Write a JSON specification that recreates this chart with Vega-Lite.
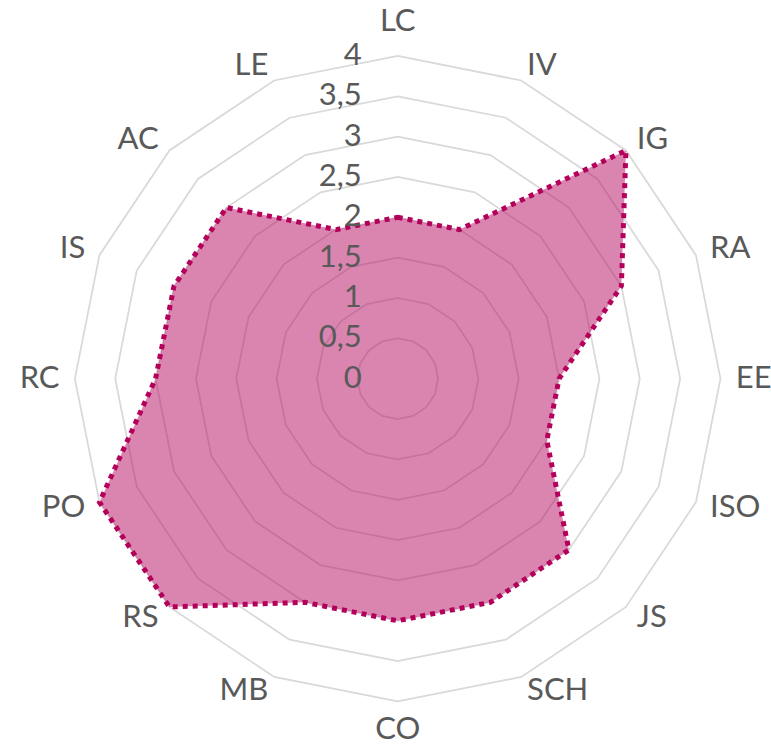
{
  "$schema": "https://vega.github.io/schema/vega-lite/v6.json",
  "width": 771,
  "height": 749,
  "autosize": {"type": "none"},
  "padding": 0,
  "background": "white",
  "config": {"view": {"stroke": null}},
  "datasets": {
    "cats": [
      {"cat": "LC", "i": 0, "value": 2},
      {"cat": "IV", "i": 1, "value": 2},
      {"cat": "IG", "i": 2, "value": 4},
      {"cat": "RA", "i": 3, "value": 3},
      {"cat": "EE", "i": 4, "value": 2},
      {"cat": "ISO", "i": 5, "value": 2},
      {"cat": "JS", "i": 6, "value": 3},
      {"cat": "SCH", "i": 7, "value": 3},
      {"cat": "CO", "i": 8, "value": 3},
      {"cat": "MB", "i": 9, "value": 3},
      {"cat": "RS", "i": 10, "value": 4},
      {"cat": "PO", "i": 11, "value": 4},
      {"cat": "RC", "i": 12, "value": 3},
      {"cat": "IS", "i": 13, "value": 3},
      {"cat": "AC", "i": 14, "value": 3},
      {"cat": "LE", "i": 15, "value": 2}
    ],
    "levels": [
      {"level": 0, "label": "0"},
      {"level": 0.5, "label": "0,5"},
      {"level": 1, "label": "1"},
      {"level": 1.5, "label": "1,5"},
      {"level": 2, "label": "2"},
      {"level": 2.5, "label": "2,5"},
      {"level": 3, "label": "3"},
      {"level": 3.5, "label": "3,5"},
      {"level": 4, "label": "4"}
    ],
    "rings": [
      {"level": 0.5, "i": [0,1,2,3,4,5,6,7,8,9,10,11,12,13,14,15]},
      {"level": 1, "i": [0,1,2,3,4,5,6,7,8,9,10,11,12,13,14,15]},
      {"level": 1.5, "i": [0,1,2,3,4,5,6,7,8,9,10,11,12,13,14,15]},
      {"level": 2, "i": [0,1,2,3,4,5,6,7,8,9,10,11,12,13,14,15]},
      {"level": 2.5, "i": [0,1,2,3,4,5,6,7,8,9,10,11,12,13,14,15]},
      {"level": 3, "i": [0,1,2,3,4,5,6,7,8,9,10,11,12,13,14,15]},
      {"level": 3.5, "i": [0,1,2,3,4,5,6,7,8,9,10,11,12,13,14,15]},
      {"level": 4, "i": [0,1,2,3,4,5,6,7,8,9,10,11,12,13,14,15]}
    ]
  },
  "layer": [
    {
      "data": {"name": "rings"},
      "transform": [
        {"flatten": ["i"]},
        {"calculate": "datum.level*sin(datum.i*PI/8)", "as": "x"},
        {"calculate": "datum.level*cos(datum.i*PI/8)", "as": "y"}
      ],
      "mark": {"type": "line", "interpolate": "linear-closed", "stroke": "#d9d9d9", "strokeWidth": 1.75},
      "encoding": {
        "x": {"field": "x", "type": "quantitative", "scale": {"domain": [-4.928, 4.626]}, "axis": null},
        "y": {"field": "y", "type": "quantitative", "scale": {"domain": [-4.589, 4.693]}, "axis": null},
        "detail": {"field": "level", "type": "nominal"},
        "order": {"field": "i", "type": "quantitative"}
      }
    },
    {
      "data": {"name": "cats"},
      "transform": [
        {"calculate": "datum.value*sin(datum.i*PI/8)", "as": "x"},
        {"calculate": "datum.value*cos(datum.i*PI/8)", "as": "y"}
      ],
      "mark": {"type": "line", "interpolate": "linear-closed", "fill": "#b30c62", "fillOpacity": 0.5, "stroke": "#b5005b", "strokeWidth": 5, "strokeDash": [5, 5], "strokeCap": "butt"},
      "encoding": {
        "x": {"field": "x", "type": "quantitative", "scale": {"domain": [-4.928, 4.626]}, "axis": null},
        "y": {"field": "y", "type": "quantitative", "scale": {"domain": [-4.589, 4.693]}, "axis": null},
        "order": {"field": "i", "type": "quantitative"}
      }
    },
    {
      "data": {"name": "cats"},
      "transform": [
        {"filter": "datum.i == 0"},
        {"calculate": "0", "as": "x"},
        {"calculate": "4.42", "as": "y"}
      ],
      "mark": {"type": "text", "font": "Lato", "fontSize": 31, "fill": "#595959", "align": "center", "baseline": "middle"},
      "encoding": {
        "x": {"field": "x", "type": "quantitative", "scale": {"domain": [-4.928, 4.626]}, "axis": null},
        "y": {"field": "y", "type": "quantitative", "scale": {"domain": [-4.589, 4.693]}, "axis": null},
        "text": {"field": "cat", "type": "nominal"}
      }
    },
    {
      "data": {"name": "cats"},
      "transform": [
        {"filter": "datum.i == 8"},
        {"calculate": "0", "as": "x"},
        {"calculate": "-4.35", "as": "y"}
      ],
      "mark": {"type": "text", "font": "Lato", "fontSize": 31, "fill": "#595959", "align": "center", "baseline": "middle"},
      "encoding": {
        "x": {"field": "x", "type": "quantitative", "scale": {"domain": [-4.928, 4.626]}, "axis": null},
        "y": {"field": "y", "type": "quantitative", "scale": {"domain": [-4.589, 4.693]}, "axis": null},
        "text": {"field": "cat", "type": "nominal"}
      }
    },
    {
      "data": {"name": "cats"},
      "transform": [
        {"filter": "datum.i > 0 && datum.i < 8"},
        {"calculate": "4.19*sin(datum.i*PI/8)", "as": "x"},
        {"calculate": "4.19*cos(datum.i*PI/8)", "as": "y"}
      ],
      "mark": {"type": "text", "font": "Lato", "fontSize": 31, "fill": "#595959", "align": "left", "baseline": "middle"},
      "encoding": {
        "x": {"field": "x", "type": "quantitative", "scale": {"domain": [-4.928, 4.626]}, "axis": null},
        "y": {"field": "y", "type": "quantitative", "scale": {"domain": [-4.589, 4.693]}, "axis": null},
        "text": {"field": "cat", "type": "nominal"}
      }
    },
    {
      "data": {"name": "cats"},
      "transform": [
        {"filter": "datum.i > 8"},
        {"calculate": "4.19*sin(datum.i*PI/8)", "as": "x"},
        {"calculate": "4.19*cos(datum.i*PI/8)", "as": "y"}
      ],
      "mark": {"type": "text", "font": "Lato", "fontSize": 31, "fill": "#595959", "align": "right", "baseline": "middle"},
      "encoding": {
        "x": {"field": "x", "type": "quantitative", "scale": {"domain": [-4.928, 4.626]}, "axis": null},
        "y": {"field": "y", "type": "quantitative", "scale": {"domain": [-4.589, 4.693]}, "axis": null},
        "text": {"field": "cat", "type": "nominal"}
      }
    },
    {
      "data": {"name": "levels"},
      "mark": {"type": "text", "font": "Lato", "fontSize": 31, "fill": "#595959", "align": "right", "baseline": "middle", "dx": -36},
      "encoding": {
        "x": {"datum": 0, "type": "quantitative", "scale": {"domain": [-4.928, 4.626]}, "axis": null},
        "y": {"field": "level", "type": "quantitative", "scale": {"domain": [-4.589, 4.693]}, "axis": null},
        "text": {"field": "label", "type": "nominal"}
      }
    }
  ]
}
